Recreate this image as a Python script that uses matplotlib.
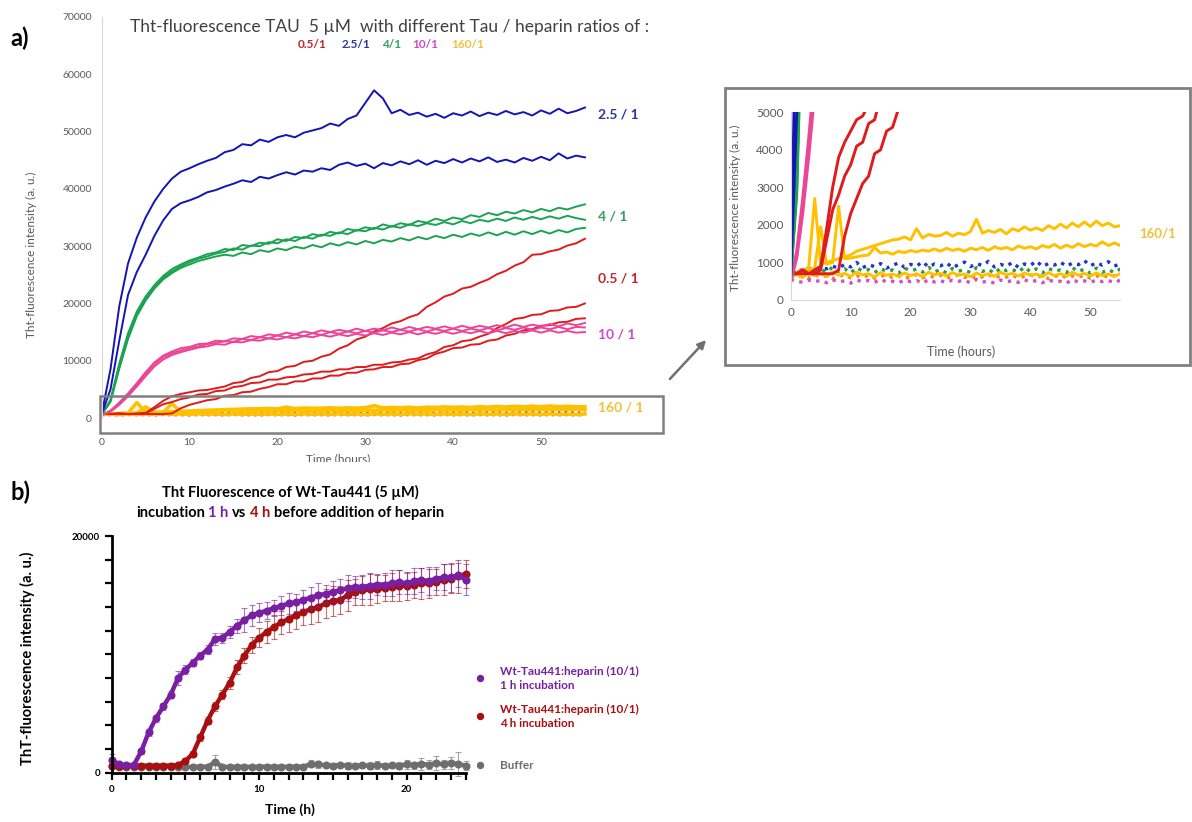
import numpy as np
import matplotlib
matplotlib.use("Agg")
import matplotlib.pyplot as plt
from matplotlib.patches import Rectangle, FancyArrowPatch
from matplotlib.lines import Line2D
from matplotlib.transforms import Bbox, TransformedBbox

plt.rcParams['font.family'] = ['Lato', 'DejaVu Sans']

# ---- panel a: ThT kinetics, 5 uM tau, hourly readings (values in thousands a.u.) ----
hours_a = np.arange(56)

blue_top_k = [0.7, 8.5, 19.5, 27.0, 31.5, 35.0, 37.8, 40.0,
              41.8, 43.0, 43.6, 44.3, 44.9, 45.4, 46.4, 46.8,
              47.8, 47.6, 48.6, 48.2, 49.0, 49.4, 49.0, 49.8,
              50.2, 50.6, 51.4, 51.0, 52.2, 52.8, 55.0, 57.2,
              55.8, 53.2, 53.8, 52.9, 53.3, 52.6, 53.1, 52.4,
              53.2, 52.8, 53.5, 52.7, 53.3, 52.9, 53.6, 53.0,
              53.4, 52.8, 53.7, 53.1, 54.0, 53.2, 53.6, 54.2]
blue_low_k = [0.7, 5.0, 13.5, 21.5, 25.5, 28.5, 31.8, 34.5,
              36.5, 37.5, 38.0, 38.6, 39.4, 39.8, 40.4, 40.9,
              41.5, 41.2, 42.1, 41.8, 42.4, 42.9, 42.5, 43.2,
              43.0, 43.6, 43.3, 44.2, 44.6, 44.0, 44.4, 43.6,
              44.5, 44.1, 44.8, 44.3, 45.0, 44.2, 44.9, 44.5,
              45.2, 44.6, 45.3, 44.8, 45.5, 44.7, 45.1, 44.6,
              45.4, 44.9, 45.6, 45.0, 46.2, 45.3, 45.8, 45.5]

green_a_k = [0.6, 3.2, 9.5, 14.8, 18.6, 21.2, 23.2, 24.8,
             26.0, 26.8, 27.5, 28.0, 28.6, 28.9, 29.5, 29.3,
             30.2, 30.0, 30.6, 30.4, 31.2, 30.9, 31.6, 31.4,
             32.1, 31.8, 32.5, 32.2, 33.0, 32.7, 33.3, 33.0,
             33.8, 33.4, 34.0, 33.7, 34.4, 34.1, 34.8, 34.4,
             35.0, 34.7, 35.4, 35.1, 35.8, 35.4, 36.0, 35.7,
             36.3, 35.9, 36.5, 36.1, 36.7, 36.4, 36.9, 37.3]
green_b_k = [0.6, 3.0, 9.0, 14.2, 18.2, 20.9, 23.0, 24.5,
             25.6, 26.5, 27.2, 27.8, 28.2, 28.7, 29.0, 29.6,
             29.4, 30.1, 30.0, 30.7, 30.5, 31.2, 30.9, 31.6,
             31.3, 32.0, 31.8, 32.4, 32.1, 32.8, 32.6, 33.2,
             32.9, 33.5, 33.2, 33.8, 33.5, 34.0, 33.7, 34.2,
             33.8, 34.4, 34.0, 34.6, 34.3, 34.8, 34.4, 35.0,
             34.6, 35.1, 34.7, 35.2, 34.8, 35.3, 34.9, 34.6]
green_c_k = [0.6, 2.8, 8.6, 13.8, 17.8, 20.5, 22.6, 24.2,
             25.3, 26.2, 26.8, 27.4, 27.8, 28.2, 28.5, 28.3,
             28.9, 28.6, 29.3, 29.0, 29.6, 29.3, 29.9, 29.6,
             30.2, 29.8, 30.5, 30.1, 30.7, 30.3, 30.9, 30.5,
             31.1, 30.8, 31.4, 31.0, 31.6, 31.2, 31.8, 31.4,
             32.0, 31.6, 32.2, 31.8, 32.4, 31.9, 32.5, 32.0,
             32.6, 32.1, 32.7, 32.2, 32.8, 32.4, 33.0, 33.2]

pink_a_k = [0.5, 1.3, 2.7, 4.3, 6.1, 8.0, 9.7, 10.9,
            11.6, 12.2, 12.4, 12.9, 13.0, 13.5, 13.4, 13.9,
            13.8, 14.3, 14.1, 14.6, 14.4, 14.9, 14.6, 15.1,
            14.8, 15.3, 15.0, 15.4, 15.1, 15.6, 15.2, 15.6,
            15.3, 15.8, 15.4, 15.9, 15.5, 15.9, 15.6, 16.0,
            15.6, 16.1, 15.7, 16.1, 15.8, 16.2, 15.8, 16.3,
            15.9, 16.3, 16.0, 16.4, 16.0, 16.5, 16.2, 16.6]
pink_b_k = [0.5, 1.2, 2.5, 4.1, 5.8, 7.7, 9.4, 10.6,
            11.3, 11.8, 12.2, 12.5, 12.9, 13.1, 13.4, 13.3,
            13.8, 13.6, 14.1, 13.9, 14.4, 14.1, 14.6, 14.3,
            14.8, 14.5, 15.0, 14.7, 15.1, 14.8, 15.2, 14.9,
            15.3, 15.0, 15.4, 15.1, 15.5, 15.1, 15.5, 15.2,
            15.6, 15.2, 15.6, 15.3, 15.7, 15.3, 15.7, 15.4,
            15.8, 15.4, 15.8, 15.5, 15.9, 15.5, 15.9, 15.8]
pink_c_k = [0.5, 1.1, 2.3, 3.8, 5.5, 7.3, 9.0, 10.2,
            11.0, 11.5, 11.9, 12.3, 12.5, 12.9, 12.8, 13.3,
            13.2, 13.6, 13.5, 13.9, 13.7, 14.1, 13.9, 14.3,
            14.1, 14.5, 14.2, 14.6, 14.3, 14.7, 14.4, 14.8,
            14.5, 14.9, 14.6, 15.0, 14.6, 15.0, 14.7, 15.1,
            14.7, 15.1, 14.8, 15.2, 14.8, 15.2, 14.8, 15.2,
            14.9, 15.3, 14.9, 15.3, 14.9, 15.2, 14.9, 15.0]

red_a_k = [0.8, 0.7, 0.8, 0.7, 0.8, 0.9, 1.9, 3.0,
           3.8, 4.2, 4.5, 4.8, 4.9, 5.2, 5.5, 6.1,
           6.3, 7.0, 7.3, 8.0, 8.2, 8.9, 9.1, 9.8,
           10.0, 10.7, 11.1, 12.1, 12.7, 13.7, 14.2, 15.1,
           15.7, 16.5, 16.9, 17.6, 18.1, 19.4, 20.2, 21.2,
           21.7, 22.6, 22.9, 23.6, 24.2, 25.1, 25.7, 26.6,
           27.2, 28.5, 28.6, 29.1, 29.4, 30.1, 30.5, 31.3]
red_b_k = [0.7, 0.7, 0.8, 0.7, 0.7, 0.8, 1.6, 2.4,
           2.8, 3.3, 3.6, 4.1, 4.2, 4.7, 4.8, 5.4,
           5.6, 6.1, 6.2, 6.7, 6.7, 7.1, 7.2, 7.6,
           7.7, 8.1, 8.1, 8.5, 8.5, 8.9, 8.9, 9.3,
           9.3, 9.7, 9.8, 10.2, 10.4, 11.1, 11.5, 12.4,
           12.7, 13.4, 13.6, 14.2, 14.7, 15.7, 16.4, 17.3,
           17.5, 18.0, 18.1, 18.7, 18.8, 19.3, 19.4, 20.0]
red_c_k = [0.7, 0.7, 0.7, 0.7, 0.7, 0.7, 0.7, 0.7,
           0.8, 1.7, 2.3, 2.7, 3.1, 3.3, 3.9, 4.0,
           4.5, 4.6, 5.1, 5.4, 5.9, 5.9, 6.4, 6.4,
           6.9, 6.9, 7.4, 7.4, 7.9, 7.9, 8.4, 8.5,
           8.9, 8.9, 9.4, 9.5, 10.1, 10.4, 11.2, 11.6,
           12.2, 12.3, 12.8, 12.9, 13.5, 13.7, 14.4, 14.7,
           15.3, 15.5, 16.1, 16.2, 16.7, 16.8, 17.3, 17.4]

yellow_a_k = [0.70, 0.75, 0.80, 0.85, 2.70, 0.95, 1.00, 1.05,
              1.10, 1.15, 1.20, 1.30, 1.35, 1.40, 1.45, 1.50,
              1.55, 1.60, 1.62, 1.68, 1.60, 1.90, 1.65, 1.75,
              1.70, 1.72, 1.80, 1.70, 1.78, 1.74, 1.82, 2.15,
              1.78, 1.85, 1.80, 1.88, 1.76, 1.90, 1.84, 1.95,
              1.86, 1.92, 1.85, 1.98, 1.90, 2.02, 1.92, 2.05,
              1.95, 2.08, 1.96, 2.10, 1.98, 2.05, 1.95, 1.98]
yellow_b_k = [0.65, 0.70, 0.72, 0.80, 0.85, 1.95, 0.95, 1.00,
              2.50, 1.10, 1.12, 1.15, 1.18, 1.20, 1.40, 1.25,
              1.28, 1.22, 1.30, 1.26, 1.32, 1.28, 1.33, 1.30,
              1.36, 1.30, 1.38, 1.32, 1.36, 1.30, 1.38, 1.34,
              1.40, 1.32, 1.42, 1.36, 1.40, 1.34, 1.44, 1.38,
              1.42, 1.36, 1.45, 1.40, 1.48, 1.38, 1.46, 1.40,
              1.50, 1.42, 1.48, 1.44, 1.55, 1.45, 1.52, 1.45]
yellow_c_k = [0.62, 0.68, 0.60, 0.72, 0.65, 0.70, 0.62, 0.75,
              0.66, 0.71, 0.63, 0.74, 0.67, 0.70, 0.61, 0.73,
              0.66, 0.69, 0.63, 0.72, 0.65, 0.70, 0.62, 0.74,
              0.67, 0.71, 0.64, 0.73, 0.66, 0.69, 0.62, 0.72,
              0.65, 0.70, 0.63, 0.74, 0.67, 0.71, 0.64, 0.72,
              0.66, 0.69, 0.62, 0.73, 0.65, 0.70, 0.63, 0.74,
              0.66, 0.71, 0.64, 0.72, 0.65, 0.69, 0.63, 0.70]

# controls without heparin (dotted)
blue_ctrl_k = [0.80, 0.82, 0.78, 0.84, 0.80, 0.86, 0.83, 0.90,
               0.85, 0.95, 0.88, 1.00, 0.86, 0.94, 0.89, 0.97,
               0.85, 0.92, 0.99, 0.87, 0.95, 0.90, 1.02, 0.88,
               0.96, 0.91, 0.99, 0.86, 0.94, 1.01, 0.89, 0.97,
               0.92, 1.03, 0.88, 0.95, 0.90, 1.00, 0.87, 0.96,
               0.92, 1.04, 0.89, 0.97, 0.93, 1.01, 0.90, 0.98,
               0.94, 1.05, 0.91, 0.99, 0.93, 1.02, 0.90, 0.97]
green_ctrl_k = [0.75, 0.80, 0.72, 0.85, 0.78, 0.82, 0.74, 0.88,
                0.76, 0.83, 0.72, 0.86, 0.77, 0.81, 0.73, 0.84,
                0.76, 0.80, 0.71, 0.85, 0.78, 0.82, 0.74, 0.87,
                0.75, 0.81, 0.72, 0.84, 0.77, 0.80, 0.73, 0.86,
                0.76, 0.82, 0.71, 0.85, 0.78, 0.81, 0.74, 0.88,
                0.75, 0.83, 0.72, 0.84, 0.77, 0.80, 0.73, 0.86,
                0.76, 0.82, 0.71, 0.85, 0.74, 0.81, 0.73, 0.83]
pink_ctrl_k = [0.55, 0.50, 0.47, 0.53, 0.49, 0.52, 0.46, 0.54,
               0.48, 0.51, 0.45, 0.53, 0.49, 0.52, 0.47, 0.55,
               0.48, 0.50, 0.46, 0.53, 0.49, 0.52, 0.45, 0.54,
               0.48, 0.51, 0.47, 0.53, 0.50, 0.52, 0.46, 0.55,
               0.48, 0.50, 0.45, 0.53, 0.49, 0.51, 0.47, 0.54,
               0.48, 0.52, 0.46, 0.53, 0.49, 0.50, 0.45, 0.54,
               0.48, 0.51, 0.47, 0.53, 0.49, 0.52, 0.46, 0.53]
orange_ctrl_k = [0.66, 0.60, 0.64, 0.58, 0.67, 0.61, 0.65, 0.57,
                 0.63, 0.68, 0.59, 0.64, 0.60, 0.66, 0.58, 0.63,
                 0.67, 0.60, 0.65, 0.57, 0.62, 0.68, 0.59, 0.64,
                 0.61, 0.66, 0.58, 0.63, 0.67, 0.60, 0.65, 0.57,
                 0.62, 0.68, 0.59, 0.64, 0.61, 0.66, 0.58, 0.63,
                 0.67, 0.60, 0.65, 0.57, 0.62, 0.68, 0.59, 0.64,
                 0.61, 0.66, 0.58, 0.63, 0.67, 0.60, 0.65, 0.62]

ratio_labels = ["0.5/1", "2.5/1", "4/1", "10/1", "160/1"]

# ---- panel b: 10/1 tau:heparin, 1 h vs 4 h pre-incubation (thousands a.u.) ----
hours_b = np.arange(0, 24.5, 0.5)

purple_k = [1.1, 0.7, 0.65, 0.65, 1.8, 3.4, 4.6, 5.6,
            6.6, 8.0, 8.7, 9.3, 9.9, 10.4, 11.3, 11.4,
            11.9, 12.4, 12.9, 13.3, 13.5, 13.7, 13.9, 14.1,
            14.3, 14.4, 14.6, 14.8, 15.0, 15.1, 15.3, 15.4,
            15.6, 15.7, 15.7, 15.8, 15.9, 15.9, 16.0, 16.1,
            16.0, 16.2, 16.3, 16.2, 16.4, 16.5, 16.5, 16.7,
            16.3]
purple_err_k = [0.5, 0.1, 0.1, 0.1, 0.2, 0.3, 0.3, 0.3,
                0.3, 0.6, 0.4, 0.3, 0.3, 0.4, 0.5, 0.4,
                0.5, 0.6, 1.0, 0.9, 0.8, 0.7, 0.7, 0.8,
                0.9, 0.7, 0.8, 0.9, 1.0, 0.8, 0.9, 1.0,
                1.1, 0.9, 1.0, 1.1, 0.9, 1.0, 1.1, 1.0,
                0.9, 1.1, 1.0, 1.2, 1.0, 1.1, 1.2, 1.0,
                1.3]
red4_k = [0.6, 0.6, 0.6, 0.6, 0.6, 0.6, 0.6, 0.6,
          0.6, 0.65, 1.0, 1.6, 3.0, 4.4, 5.6, 6.6,
          7.6, 8.9, 9.9, 10.8, 11.4, 11.9, 12.3, 12.7,
          13.0, 13.3, 13.6, 13.8, 14.0, 14.3, 14.5, 14.6,
          15.0, 15.3, 15.4, 15.5, 15.5, 15.6, 15.7, 15.8,
          15.8, 15.9, 16.0, 16.0, 16.1, 16.3, 16.4, 16.6,
          16.8]
red4_err_k = [0.1, 0.1, 0.1, 0.1, 0.1, 0.1, 0.1, 0.1,
              0.1, 0.1, 0.2, 0.2, 0.3, 0.3, 0.4, 0.4,
              0.5, 0.6, 0.6, 0.7, 0.8, 0.9, 1.0, 1.0,
              1.1, 1.2, 1.1, 1.2, 1.3, 1.2, 1.3, 1.2,
              1.3, 1.1, 1.2, 1.3, 1.2, 1.1, 1.2, 1.3,
              1.2, 1.1, 1.3, 1.2, 1.1, 1.3, 1.2, 1.4,
              1.2]
buffer_k = [0.55, 0.50, 0.50, 0.52, 0.50, 0.48, 0.50, 0.52,
            0.50, 0.50, 0.48, 0.50, 0.52, 0.50, 0.90, 0.50,
            0.48, 0.50, 0.50, 0.48, 0.50, 0.52, 0.50, 0.50,
            0.50, 0.52, 0.50, 0.75, 0.70, 0.62, 0.60, 0.65,
            0.60, 0.58, 0.62, 0.60, 0.65, 0.58, 0.62, 0.60,
            0.70, 0.62, 0.75, 0.68, 0.80, 0.70, 0.85, 0.72,
            0.60]
buffer_err_k = [0.10, 0.05, 0.05, 0.05, 0.05, 0.05, 0.05, 0.05,
                0.05, 0.05, 0.05, 0.05, 0.05, 0.05, 0.60, 0.05,
                0.05, 0.05, 0.05, 0.05, 0.05, 0.05, 0.05, 0.05,
                0.05, 0.05, 0.05, 0.30, 0.30, 0.20, 0.20, 0.20,
                0.30, 0.20, 0.20, 0.30, 0.30, 0.20, 0.20, 0.30,
                0.40, 0.30, 0.50, 0.40, 0.60, 0.40, 0.50, 1.00,
                0.40]

# colours
C_BLUE = '#1414b4'
C_GREEN = '#1aa351'
C_PINK = '#ec4597'
C_RED = '#e01b1b'
C_YELLOW = '#ffc000'
C_TICK = '#595959'
C_PURPLE = '#7b1fa2'
C_DARKRED = '#a80f0f'
C_GREY = '#6e6e6e'

W, H = 1192, 822
fig = plt.figure(figsize=(W / 100, H / 100), dpi=100)


def px_axes(left, top, right, bottom):
    return fig.add_axes([left / W, 1 - bottom / H, (right - left) / W, (bottom - top) / H])


def fx(x):
    return x / W


def fy(y):
    return 1 - y / H


def k(vals):
    return np.asarray(vals) * 1000.0


traces = [
    (blue_ctrl_k, '#2233cc', ':'), (green_ctrl_k, '#2a9d4a', ':'),
    (orange_ctrl_k, '#f08a24', ':'), (pink_ctrl_k, '#d44fc0', ':'),
    (yellow_c_k, C_YELLOW, '-'), (yellow_b_k, C_YELLOW, '-'), (yellow_a_k, C_YELLOW, '-'),
    (red_c_k, C_RED, '-'), (red_b_k, C_RED, '-'), (red_a_k, C_RED, '-'),
    (pink_c_k, C_PINK, '-'), (pink_b_k, C_PINK, '-'), (pink_a_k, C_PINK, '-'),
    (green_c_k, C_GREEN, '-'), (green_b_k, C_GREEN, '-'), (green_a_k, C_GREEN, '-'),
    (blue_low_k, C_BLUE, '-'), (blue_top_k, C_BLUE, '-'),
]

# ---------------- panel a, full scale ----------------
ax = px_axes(101.7, 17, 672.8, 435.2)
for vals, col, ls in traces:
    if col == C_YELLOW:
        lw = 2.6
    elif ls == ':':
        lw = 1.8
    else:
        lw = 1.4
    ax.plot(hours_a, k(vals), color=col, ls=ls, lw=lw)
ax.set_xlim(0, 65)
ax.set_ylim(-3000, 70000)
for s in ['top', 'right', 'bottom']:
    ax.spines[s].set_visible(False)
ax.spines['left'].set_color('#d9d9d9')
ax.spines['left'].set_bounds(0, 70000)
ax.set_xticks(range(0, 51, 10))
ax.set_yticks(range(0, 70001, 10000))
ax.tick_params(length=0, labelsize=7.5, labelcolor=C_TICK)
ax.tick_params(axis='y', pad=7)
ax.tick_params(axis='x', pad=2)
ax.set_ylabel('Tht-fluorescence intensity (a. u.)', fontsize=8.5, color=C_TICK)
ax.yaxis.set_label_coords(-0.113, 0.431)
ax.add_patch(Rectangle((-0.2, -2600), 64.1, 6400, fill=False, ec='#7f7f7f',
                       lw=1.8, clip_on=False, zorder=5))

xl = fig.text(fx(338), fy(459), 'Time (hours)', ha='center', va='center',
              fontsize=8.5, color=C_TICK)
xl.set_clip_box(TransformedBbox(Bbox.from_extents(0, fy(462), 1, 1), fig.transFigure))
xl.set_clip_on(True)

label_pos = [("2.5 / 1", 52900, '#2f3699'), ("4 / 1", 35100, '#37a060'),
             ("0.5 / 1", 24400, '#c0262d'), ("10 / 1", 14500, '#cc4ec8'),
             ("160 / 1", 1900, '#f0c23b')]
for txt, yv, col in label_pos:
    ax.text(56.5, yv, txt, color=col, fontsize=10, fontweight='bold',
            ha='left', va='center')

fig.text(fx(20), fy(38), 'a)', fontsize=17, fontweight='bold', ha='center', va='center')
fig.text(fx(390), fy(27), 'Tht-fluorescence TAU  5 µM  with different Tau / heparin ratios of :',
         fontsize=12.5, color='#404040', ha='center', va='center')
sub_cols = ['#c0262d', '#2f3699', '#37a060', '#cc4ec8', '#f0c23b']
sub_x = [312, 356, 392, 425, 468]
for txt, col, xc in zip(ratio_labels, sub_cols, sub_x):
    fig.text(fx(xc), fy(45), txt, color=col, fontsize=8.5, fontweight='bold',
             ha='center', va='center')

# link from the low-signal box to the zoomed view
fig.add_artist(FancyArrowPatch((fx(668), fy(381)), (fx(708), fy(338)),
                               transform=fig.transFigure, arrowstyle='-|>',
                               mutation_scale=12, color='#707070', lw=1.8))
fig.add_artist(Rectangle((fx(725), fy(365)), fx(1190) - fx(725), (365 - 88) / H,
                         transform=fig.transFigure, fill=False, ec='#808080', lw=2))

# ---------------- panel a, zoom on 0-5000 ----------------
axi = px_axes(790.7, 112.3, 1120.3, 300)
for vals, col, ls in traces:
    axi.plot(hours_a, k(vals), color=col, ls=ls, lw=2.4 if ls == ':' else 2.1)
axi.set_xlim(0, 55)
axi.set_ylim(0, 5000)
for s in ['top', 'right']:
    axi.spines[s].set_visible(False)
for s in ['left', 'bottom']:
    axi.spines[s].set_color('#d9d9d9')
axi.set_xticks(range(0, 51, 10))
axi.set_yticks(range(0, 5001, 1000))
axi.tick_params(length=0, labelsize=8.5, labelcolor=C_TICK, pad=5)
axi.set_ylabel('Tht-fluorescence intensity (a. u.)', fontsize=8.5, color=C_TICK)
axi.yaxis.set_label_coords(-0.151, 0.49)
axi.set_xlabel('Time (hours)', fontsize=9, color=C_TICK)
axi.xaxis.set_label_coords(0.517, -0.24)
fig.text(fx(1158), fy(233), '160/1', color='#f0c23b', fontsize=9.5,
         fontweight='bold', ha='center', va='center')

# ---------------- panel b ----------------
fig.text(fx(20), fy(492), 'b)', fontsize=17, fontweight='bold', ha='center', va='center')
fig.text(fx(290), fy(492), 'Tht Fluorescence of Wt-Tau441 (5 µM)', fontsize=10.5,
         fontweight='bold', ha='center', va='center')

renderer = fig.canvas.get_renderer()
parts = [('incubation', 'black'), ('1 h', C_PURPLE), ('vs', 'black'),
         ('4 h', C_DARKRED), ('before addition of heparin', 'black')]
objs = [fig.text(0, fy(513), s, color=c, fontsize=10.5, fontweight='bold',
                 ha='left', va='center') for s, c in parts]
widths = [o.get_window_extent(renderer).width for o in objs]
probe = fig.text(0, 0, 'a a', fontsize=10.5, fontweight='bold')
probe2 = fig.text(0, 0, 'aa', fontsize=10.5, fontweight='bold')
space = probe.get_window_extent(renderer).width - probe2.get_window_extent(renderer).width
probe.remove()
probe2.remove()
total = sum(widths) + space * (len(parts) - 1)
xpos = 290 - total / 2
for o, w in zip(objs, widths):
    o.set_x(fx(xpos))
    xpos += w + space

axb = px_axes(111.7, 536, 465.7, 772.7)
series_b = [(buffer_k, buffer_err_k, C_GREY), (red4_k, red4_err_k, C_DARKRED),
            (purple_k, purple_err_k, C_PURPLE)]
for vals, err, col in series_b:
    axb.errorbar(hours_b, k(vals), yerr=k(err), fmt='none', ecolor=col,
                 elinewidth=0.8, capsize=2.5, capthick=0.8, alpha=0.6, clip_on=False)
    axb.plot(hours_b, k(vals), '-', color=col, lw=3.2, solid_capstyle='round',
             clip_on=False)
    axb.plot(hours_b, k(vals), 'o', color=col, ms=4.8, clip_on=False)
axb.set_xlim(0, 24)
axb.set_ylim(0, 20000)
for s in ['top', 'right']:
    axb.spines[s].set_visible(False)
for s in ['left', 'bottom']:
    axb.spines[s].set_linewidth(2)
axb.set_xticks([0, 10, 20])
axb.set_xticks(range(0, 25), minor=True)
axb.set_yticks([0, 20000])
axb.set_yticks(range(0, 20001, 2000), minor=True)
axb.tick_params(which='both', direction='out', length=5, width=1.6)
axb.tick_params(labelsize=7)
for lab in axb.get_xticklabels() + axb.get_yticklabels():
    lab.set_fontweight('bold')
axb.set_ylabel('ThT-fluorescence intensity (a. u.)', fontsize=10.5, fontweight='bold')
axb.yaxis.set_label_coords(-0.217, 0.485)
axb.set_xlabel('Time (h)', fontsize=10, fontweight='bold')
axb.xaxis.set_label_coords(0.504, -0.13)

legend_rows = [(C_PURPLE, 678, ['Wt-Tau441:heparin (10/1)', '1 h incubation']),
               (C_DARKRED, 716, ['Wt-Tau441:heparin (10/1)', '4 h incubation']),
               (C_GREY, 765, ['Buffer'])]
for col, yc, lines in legend_rows:
    fig.add_artist(Line2D([fx(480)], [fy(yc)], marker='o', ms=4.3, color=col,
                          transform=fig.transFigure))
    n = len(lines)
    for i, s in enumerate(lines):
        yy = yc + (i - (n - 1) / 2) * 14
        fig.text(fx(500), fy(yy), s, color=col, fontsize=8.5, fontweight='bold',
                 ha='left', va='center')

fig.savefig('out.png', dpi=100)
